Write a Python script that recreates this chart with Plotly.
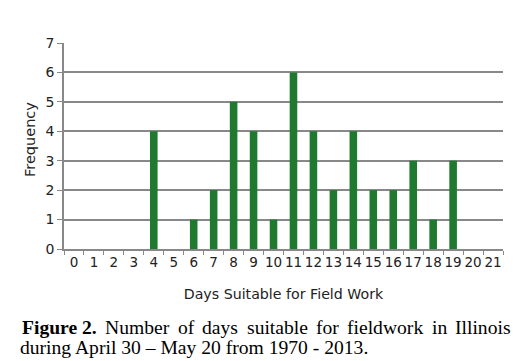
import plotly.graph_objects as go

days = [str(i) for i in range(22)]
frequency = [0, 0, 0, 0, 4, 0, 1, 2, 5, 4, 1, 6, 4, 2, 4, 2, 2, 3, 1, 3, 0, 0]
y_ticks = list(range(8))

caption_line1 = ["<b>Figure 2.</b>", "Number", "of", "days", "suitable", "for", "fieldwork", "in", "Illinois"]
caption_line2 = "during April 30 – May 20 from 1970 - 2013."

fig = go.Figure(go.Bar(
    x=days, y=frequency, width=0.38,
    marker=dict(color="#1f7a2f", line=dict(width=0)),
))

fig.update_layout(
    width=513, height=361,
    margin=dict(l=64, r=10, t=43, b=112, autoexpand=False),
    paper_bgcolor="white", plot_bgcolor="white",
    showlegend=False,
    xaxis=dict(
        type="category", categoryorder="array", categoryarray=days,
        tickson="boundaries", ticks="outside", ticklen=4, tickcolor="#888",
        tickangle=0,
        showline=True, linecolor="#888", linewidth=1.5,
        showgrid=False, tickfont=dict(family="DejaVu Sans", size=13.5, color="#222"),
        title=dict(text="Days Suitable for Field Work", font=dict(family="DejaVu Sans", size=14.2, color="#222"), standoff=20),
    ),
    yaxis=dict(
        range=[0, 7], tickvals=y_ticks, ticks="outside", ticklen=5, tickcolor="#888",
        showline=True, linecolor="#888", linewidth=1.5,
        showgrid=True, gridcolor="#888", gridwidth=1.5, zeroline=False,
        tickfont=dict(family="DejaVu Sans", size=14, color="#222"),
    ),
)

plot_left, plot_w, plot_bottom, plot_h = 64, 439, 249, 206

fig.add_annotation(
    xref="paper", yref="paper", x=(30 - plot_left) / plot_w, y=(plot_bottom - 140) / plot_h,
    xanchor="center", yanchor="middle", showarrow=False, textangle=-90,
    text="Frequency", font=dict(family="DejaVu Sans", size=14.5, color="#222"),
)

cap_font = dict(family="Liberation Serif", size=19.6, color="black")
# Justified first line: word start positions in pixels
word_px = [20, 103, 176, 200, 245, 314, 345, 430, 453]
for w, xp in zip(caption_line1, word_px):
    fig.add_annotation(
        xref="paper", yref="paper", x=(xp - plot_left) / plot_w, y=(plot_bottom - 327) / plot_h,
        xanchor="left", yanchor="middle", showarrow=False, text=w, font=cap_font,
    )
fig.add_annotation(
    xref="paper", yref="paper", x=(18 - plot_left) / plot_w, y=(plot_bottom - 347) / plot_h,
    xanchor="left", yanchor="middle", showarrow=False, text=caption_line2, font=cap_font,
)

fig.write_html("out.html", config={"displayModeBar": False},
               post_script="document.body.style.margin='0';")
